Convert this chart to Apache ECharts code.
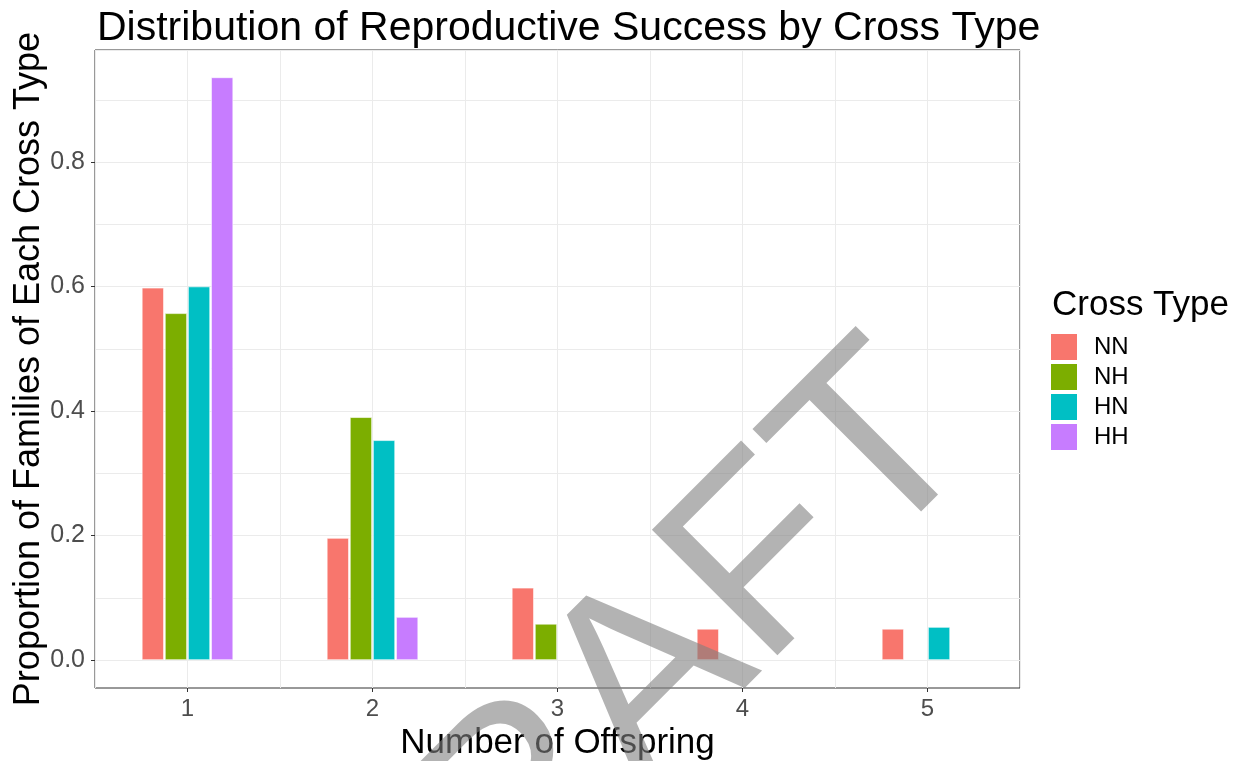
<!DOCTYPE html>
<html>
<head>
<meta charset="utf-8">
<title>Distribution of Reproductive Success by Cross Type</title>
<script src="https://cdn.jsdelivr.net/npm/echarts@6/dist/echarts.min.js"></script>
<style>
    html, body { margin: 0; padding: 0; background: #fff; }
    #main { width: 1242px; height: 761px; }
</style>
</head>
<body>
<div id="main"></div>
<script>
    // data
    var offspring = ['1', '2', '3', '4', '5'];
    var crossTypes = ['NN', 'NH', 'HN', 'HH'];
    var nn = [0.598, 0.196, 0.116, 0.050, 0.050];
    var nh = [0.557, 0.390, 0.058, null, null];
    var hn = [0.600, 0.353, null, null, 0.053];
    var hh = [0.936, 0.069, null, null, null];
    var colors = ['#F8766D', '#7CAE00', '#00BFC4', '#C77CFF'];

    var font = 'Liberation Sans, Arial, sans-serif';
    var myChart = echarts.init(document.getElementById('main'));

    function barSeries(name, data, i) {
        return {
            name: name,
            type: 'bar',
            xAxisIndex: 2,
            yAxisIndex: 1,
            data: data,
            barWidth: 22,
            barGap: '5%',
            itemStyle: { color: colors[i], borderColor: '#fff', borderWidth: 0.6 }
        };
    }

    var option = {
        animation: false,
        textStyle: { fontFamily: font },
        title: [
            {
                text: 'Distribution of Reproductive Success by Cross Type',
                left: 92, top: 3,
                textStyle: { fontSize: 41, fontWeight: 'normal', color: '#000', fontFamily: font }
            },
            {
                text: 'Cross Type',
                left: 1047, top: 283,
                textStyle: { fontSize: 35, fontWeight: 'normal', color: '#000', fontFamily: font }
            }
        ],
        legend: {
            data: crossTypes,
            orient: 'vertical',
            left: 1049, top: 332,
            padding: 0,
            itemWidth: 28, itemHeight: 28, itemGap: 0,
            icon: 'rect',
            textStyle: { fontSize: 24, color: '#000', fontFamily: font, padding: [0, 0, 0, 11] }
        },
        grid: [
            // full panel (border + vertical grid lines)
            { left: 95, right: 222, top: 50, bottom: 73, outerBoundsMode: 'none', show: true, borderColor: '#333', borderWidth: 1, backgroundColor: 'transparent' },
            // bar area: y = 0 .. 0.98
            { left: 95, right: 222, top: 50, bottom: 101, outerBoundsMode: 'none' },
            // labelled part of the y axis: 0 .. 0.8
            { left: 95, right: 222, top: 162, bottom: 101, outerBoundsMode: 'none' }
        ],
        xAxis: [
            {
                gridIndex: 0, type: 'value', min: 0, max: 5, interval: 0.5, position: 'bottom',
                axisLine: { show: false }, axisTick: { show: false }, axisLabel: { show: false },
                splitLine: { show: true, lineStyle: { color: '#ebebeb', width: 1 } }
            },
            {
                gridIndex: 0, type: 'category', data: offspring, position: 'bottom',
                name: 'Number of Offspring', nameLocation: 'middle', nameGap: 36,
                nameTextStyle: { fontSize: 35, color: '#000', fontFamily: font },
                axisLine: { show: false },
                axisTick: { show: true, alignWithLabel: true, length: 4, lineStyle: { color: '#333' } },
                axisLabel: { fontSize: 24, color: '#4d4d4d', margin: 9, fontFamily: font },
                splitLine: { show: false }
            },
            { gridIndex: 1, type: 'category', data: offspring, show: false },
            { gridIndex: 2, type: 'category', data: offspring, show: false }
        ],
        yAxis: [
            {
                gridIndex: 0, type: 'value', min: 0, max: 1, position: 'left',
                name: 'Proportion of Families of Each Cross Type', nameLocation: 'middle', nameGap: 48,
                nameTextStyle: { fontSize: 36, color: '#000', fontFamily: font },
                axisLine: { show: false }, axisTick: { show: false }, axisLabel: { show: false },
                splitLine: { show: false }
            },
            {
                gridIndex: 1, type: 'value', min: 0, max: 0.98, interval: 0.1, position: 'left',
                axisLine: { show: false }, axisTick: { show: false }, axisLabel: { show: false },
                splitLine: { show: true, lineStyle: { color: '#ebebeb', width: 1 } }
            },
            {
                gridIndex: 2, type: 'value', min: 0, max: 0.8, interval: 0.2, position: 'left',
                axisLine: { show: false },
                axisTick: { show: true, length: 4, lineStyle: { color: '#333' } },
                axisLabel: {
                    fontSize: 25, color: '#4d4d4d', margin: 10, fontFamily: font,
                    formatter: function (v) { return v.toFixed(1); }
                },
                splitLine: { show: false }
            }
        ],
        graphic: [
            {
                type: 'text',
                x: 631, y: 701,
                rotation: Math.PI / 4,
                z: 100,
                silent: true,
                style: {
                    text: 'DRAFT',
                    fontSize: 258,
                    fontFamily: font,
                    fill: 'rgba(128,128,128,0.6)',
                    align: 'center',
                    verticalAlign: 'middle'
                }
            }
        ],
        series: [
            barSeries('NN', nn, 0),
            barSeries('NH', nh, 1),
            barSeries('HN', hn, 2),
            barSeries('HH', hh, 3)
        ]
    };

    myChart.setOption(option);
</script>
</body>
</html>
